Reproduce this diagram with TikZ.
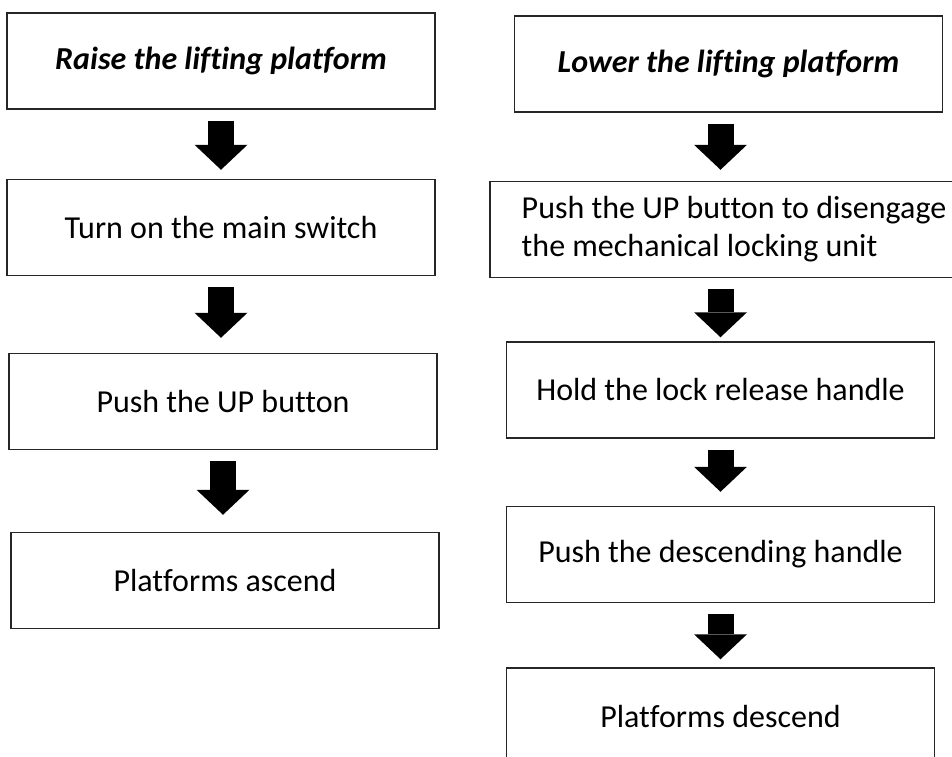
\documentclass[tikz,border=0pt]{standalone}
\usepackage{fontspec}
\setmainfont{Carlito}[Ligatures=NoCommon]
\usetikzlibrary{arrows.meta}

\begin{document}
\begin{tikzpicture}[x=0.75pt,y=-0.75pt,
    procbox/.style={draw=black!85, line width=1.1pt, inner sep=0pt,
        minimum width=321pt, minimum height=72pt, align=left,
        font=\fontsize{24}{28.5}\selectfont},
    titlebox/.style={procbox, font=\fontsize{24}{28.5}\selectfont\bfseries\itshape},
    flow/.style={line width=19.5pt,
        -{Triangle[length=18.75pt 0 0, width=39.75pt 0 0, line width=0pt]},
        shorten <=8.25pt, shorten >=#1}]
\useasboundingbox (0,0) rectangle (952,756);
\clip (0,0) rectangle (952,756);
%raise
\node[titlebox] (lb1) at (221,61) {Raise the lifting platform};
\node[procbox] (lb2) at (221,227.5) {Turn on the main switch};
\node[procbox] (lb3) at (223,401.5) {Push the UP button};
\node[procbox] (lb4) at (225,580.5) {Platforms ascend};
%lower
\node[titlebox] (rb1) at (728.5,64) {Lower the lifting platform};
\node[procbox, minimum width=366pt] (rb2) at (734,229.5)
    {Push the UP button to disengage\\the mechanical locking unit};
\node[procbox] (rb3) at (720.5,390) {Hold the lock release handle};
\node[procbox] (rb4) at (720.5,554.5) {Push the descending handle};
\node[procbox] (rb5) at (720.5,716) {Platforms descend};
%arrows
\draw[flow=6.75pt] (lb1.south) -- (lb1.south |- lb2.north);
\draw[flow=11.25pt] (lb2.south) -- (lb2.south |- lb3.north);
\draw[flow=12.75pt] (lb3.south) -- (lb3.south |- lb4.north);
\draw[flow=8.25pt] (rb1.south -| rb3) -- (rb2.north -| rb3);
\draw[flow=3pt] (rb2.south -| rb3) -- (rb3.north);
\draw[flow=10.5pt] (rb3.south) -- (rb4.north);
\draw[flow=6pt] (rb4.south) -- (rb5.north);
\end{tikzpicture}
\end{document}
